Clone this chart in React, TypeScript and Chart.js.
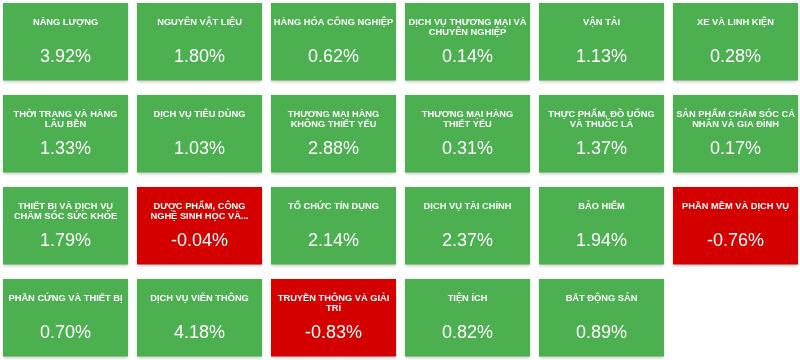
import React, { useEffect, useRef } from "react";
import { Chart, registerables } from "chart.js";

Chart.register(...registerables);

const sectors: string[] = [
  "NĂNG LƯỢNG",
  "NGUYÊN VẬT LIỆU",
  "HÀNG HÓA CÔNG NGHIỆP",
  "DỊCH VỤ THƯƠNG MẠI VÀ CHUYÊN NGHIỆP",
  "VẬN TẢI",
  "XE VÀ LINH KIỆN",
  "THỜI TRANG VÀ HÀNG LÂU BỀN",
  "DỊCH VỤ TIÊU DÙNG",
  "THƯƠNG MẠI HÀNG KHÔNG THIẾT YẾU",
  "THƯƠNG MẠI HÀNG THIẾT YẾU",
  "THỰC PHẨM, ĐỒ UỐNG VÀ THUỐC LÁ",
  "SẢN PHẨM CHĂM SÓC CÁ NHÂN VÀ GIA ĐÌNH",
  "THIẾT BỊ VÀ DỊCH VỤ CHĂM SÓC SỨC KHỎE",
  "DƯỢC PHẨM, CÔNG NGHỆ SINH HỌC VÀ KHOA HỌC ĐỜI SỐNG",
  "TỔ CHỨC TÍN DỤNG",
  "DỊCH VỤ TÀI CHÍNH",
  "BẢO HIỂM",
  "PHẦN MỀM VÀ DỊCH VỤ",
  "PHẦN CỨNG VÀ THIẾT BỊ",
  "DỊCH VỤ VIỄN THÔNG",
  "TRUYỀN THÔNG VÀ GIẢI TRÍ",
  "TIỆN ÍCH",
  "BẤT ĐỘNG SẢN",
];

const changes: number[] = [
  3.92, 1.8, 0.62, 0.14, 1.13, 0.28,
  1.33, 1.03, 2.88, 0.31, 1.37, 0.17,
  1.79, -0.04, 2.14, 2.37, 1.94, -0.76,
  0.7, 4.18, -0.83, 0.82, 0.89,
];

const COLS = 6;
const UP_COLOR = "#4caf50";
const DOWN_COLOR = "#d40000";
const TILE_H = 0.843; // fraction of a row
const TILE_W = 0.933; // fraction of a column
const TITLE_FONT = "bold 9.3px 'Liberation Sans', Arial, sans-serif";
const VALUE_FONT = "18px 'Liberation Sans', Arial, sans-serif";

function wrapText(ctx: CanvasRenderingContext2D, text: string, maxW: number, maxLines: number): string[] {
  const words = text.split(" ");
  const lines: string[] = [];
  let cur = "";
  for (let i = 0; i < words.length; i++) {
    const test = cur ? cur + " " + words[i] : words[i];
    if (ctx.measureText(test).width <= maxW || !cur) {
      cur = test;
    } else {
      lines.push(cur);
      cur = words[i];
      if (lines.length === maxLines - 1) {
        const rest = words.slice(i).join(" ");
        if (ctx.measureText(rest).width <= maxW) {
          lines.push(rest);
        } else {
          let acc = "";
          for (let j = i; j < words.length; j++) {
            const t = acc ? acc + " " + words[j] : words[j];
            if (ctx.measureText(t + "...").width <= maxW) acc = t;
            else break;
          }
          lines.push(acc + "...");
        }
        return lines;
      }
    }
  }
  if (cur) lines.push(cur);
  return lines;
}

const tilePlugin = {
  id: "tileText",
  beforeDatasetsDraw(chart: any) {
    const ctx = chart.ctx;
    ctx.save();
    ctx.shadowColor = "rgba(0,0,0,0.22)";
    ctx.shadowBlur = 3;
    ctx.shadowOffsetX = 0;
    ctx.shadowOffsetY = 1;
  },
  afterDatasetsDraw(chart: any) {
    const ctx = chart.ctx as CanvasRenderingContext2D;
    ctx.restore();
    const meta = chart.getDatasetMeta(0);
    ctx.save();
    ctx.fillStyle = "#ffffff";
    ctx.textAlign = "center";
    ctx.textBaseline = "alphabetic";
    meta.data.forEach((el: any, i: number) => {
      const p = el.getProps(["x", "y", "base", "width"], true);
      const top = Math.min(p.y, p.base);
      ctx.font = TITLE_FONT;
      const lines = wrapText(ctx, sectors[i], p.width - 5, 2);
      lines.forEach((ln, k) => {
        ctx.fillText(ln, p.x, top + 22 + k * 10);
      });
      ctx.font = VALUE_FONT;
      ctx.fillText(changes[i].toFixed(2) + "%", p.x, top + 59);
    });
    ctx.restore();
  },
};

export default function App() {
  const ref = useRef<HTMLCanvasElement | null>(null);
  useEffect(() => {
    if (!ref.current) return;
    const data = changes.map((v, i) => {
      const col = i % COLS;
      const row = Math.floor(i / COLS);
      return { x: col, y: [row, row + TILE_H] };
    });
    const colors = changes.map((v) => (v >= 0 ? UP_COLOR : DOWN_COLOR));
    const colTicks = Array.from({ length: COLS }, (_, c) => ({ value: c }));
    const chart = new Chart(ref.current, {
      type: "bar",
      data: {
        datasets: [
          {
            data: data as any,
            backgroundColor: colors,
            borderWidth: 0,
            categoryPercentage: 1,
            barPercentage: TILE_W,
            grouped: false,
          } as any,
        ],
      },
      options: {
        animation: false,
        responsive: false,
        layout: { padding: 0 },
        plugins: { legend: { display: false }, tooltip: { enabled: false } },
        scales: {
          x: {
            type: "linear",
            display: false,
            offset: false,
            min: -0.489,
            max: -0.489 + 800 / 134,
            afterBuildTicks: (scale: any) => {
              scale.ticks = colTicks.map((t) => ({ ...t }));
            },
          },
          y: { type: "linear", display: false, reverse: true, min: -3 / 92, max: -3 / 92 + 360 / 92 },
        },
      },
      plugins: [tilePlugin],
    });
    return () => chart.destroy();
  }, []);
  return (
    <div style={{ position: "absolute", left: 0, top: 0, width: 800, height: 360, background: "#fff" }}>
      <canvas ref={ref} width={800} height={360} style={{ display: "block" }} />
    </div>
  );
}
